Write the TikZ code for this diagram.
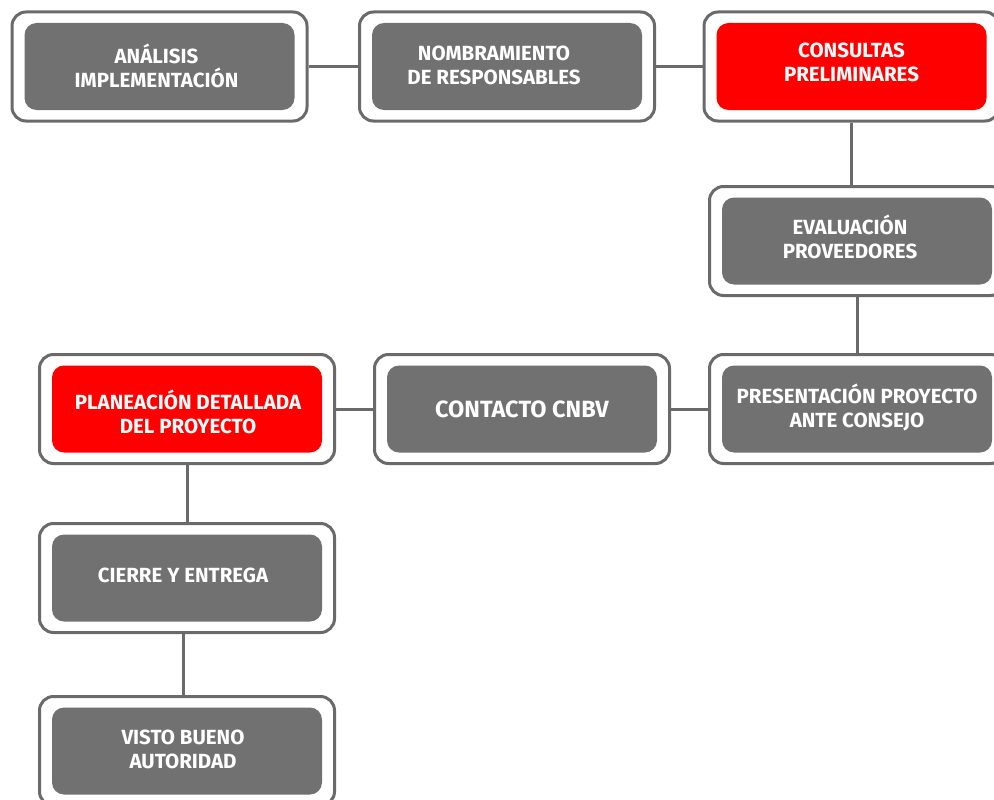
\documentclass[tikz,border=0pt]{standalone}
\usepackage{fontspec}
\setmainfont{Fira Sans}
\usepackage{tikz}
\usetikzlibrary{positioning}
\usepackage{xcolor}
\definecolor{framegray}{HTML}{6A6A6A}
\definecolor{boxgray}{HTML}{717171}
\definecolor{boxred}{HTML}{FF0000}

\begin{document}
\begin{tikzpicture}[
  x=1pt,y=-1pt,
  stepframe/.style={draw=framegray,line width=3pt,fill=white,rounded corners=14pt,minimum width=295pt,minimum height=109pt,inner sep=0pt},
  stepbox/.style={fill=boxgray,rounded corners=12pt,minimum width=270pt,minimum height=87pt,inner sep=0pt},
  keybox/.style={stepbox,fill=boxred},
  steptext/.style={text=white,font=\bfseries\fontsize{20.5}{24}\selectfont,align=center,inner sep=0pt},
  link/.style={draw=framegray,line width=3pt}
]
\clip (0,0) rectangle (994,800);
\fill[white] (0,0) rectangle (994,800);
% frames
\node[stepframe] (analisisF) at (159.5,66.5) {};
\node[stepframe] (nombraF) at (507,66.5) {};
\node[stepframe] (consultaF) at (851.5,66.5) {};
\node[stepframe] (evaluaF) at (857,241) {};
\node[stepframe] (presentaF) at (857,409) {};
\node[stepframe] (contactoF) at (522,409) {};
\node[stepframe] (planeaF) at (187,409) {};
\node[stepframe] (cierreF) at (187,578) {};
\node[stepframe] (vistoF) at (187,751) {};
% boxes, text at their centre
\node[stepbox,label={[steptext,xshift=-3pt,yshift=1pt]center:ANÁLISIS\\IMPLEMENTACIÓN}] (analisis) at (analisisF.center) {};
\node[stepbox,label={[steptext,xshift=-13pt,yshift=1pt]center:NOMBRAMIENTO\\DE RESPONSABLES}] (nombra) at (nombraF.center) {};
\node[keybox,label={[steptext,yshift=4pt]center:CONSULTAS\\PRELIMINARES}] (consulta) at (consultaF.center) {};
\node[stepbox,label={[steptext,xshift=-7pt,yshift=4pt]center:EVALUACIÓN\\PROVEEDORES}] (evalua) at (evaluaF.center) {};
\node[stepbox,label={[steptext,yshift=2pt]center:PRESENTACIÓN PROYECTO\\ANTE CONSEJO}] (presenta) at (presentaF.center) {};
\node[stepbox,label={[steptext,font=\bfseries\fontsize{23.5}{28}\selectfont]center:CONTACTO CNBV}] (contacto) at (contactoF.center) {};
\node[keybox,label={[steptext,xshift=1pt,yshift=-3pt]center:PLANEACIÓN DETALLADA\\DEL PROYECTO}] (planea) at (planeaF.center) {};
\node[stepbox,label={[steptext,xshift=-4pt,yshift=3pt]center:CIERRE Y ENTREGA}] (cierre) at (cierreF.center) {};
\node[stepbox,label={[steptext,xshift=-4pt,yshift=2pt]center:VISTO BUENO\\AUTORIDAD}] (visto) at (vistoF.center) {};
% links
\draw[link] (analisisF) -- (nombraF);
\draw[link] (nombraF) -- (consultaF);
\draw[link] (consultaF.south) -- (consultaF.south |- evaluaF.north);
\draw[link] (evaluaF.south) -- (presentaF.north);
\draw[link] (presentaF) -- (contactoF);
\draw[link] (contactoF) -- (planeaF);
\draw[link] (planeaF) -- (cierreF);
\draw[link] ([xshift=-4pt]cierreF.south) -- ([xshift=-4pt]vistoF.north);
\end{tikzpicture}
\end{document}
